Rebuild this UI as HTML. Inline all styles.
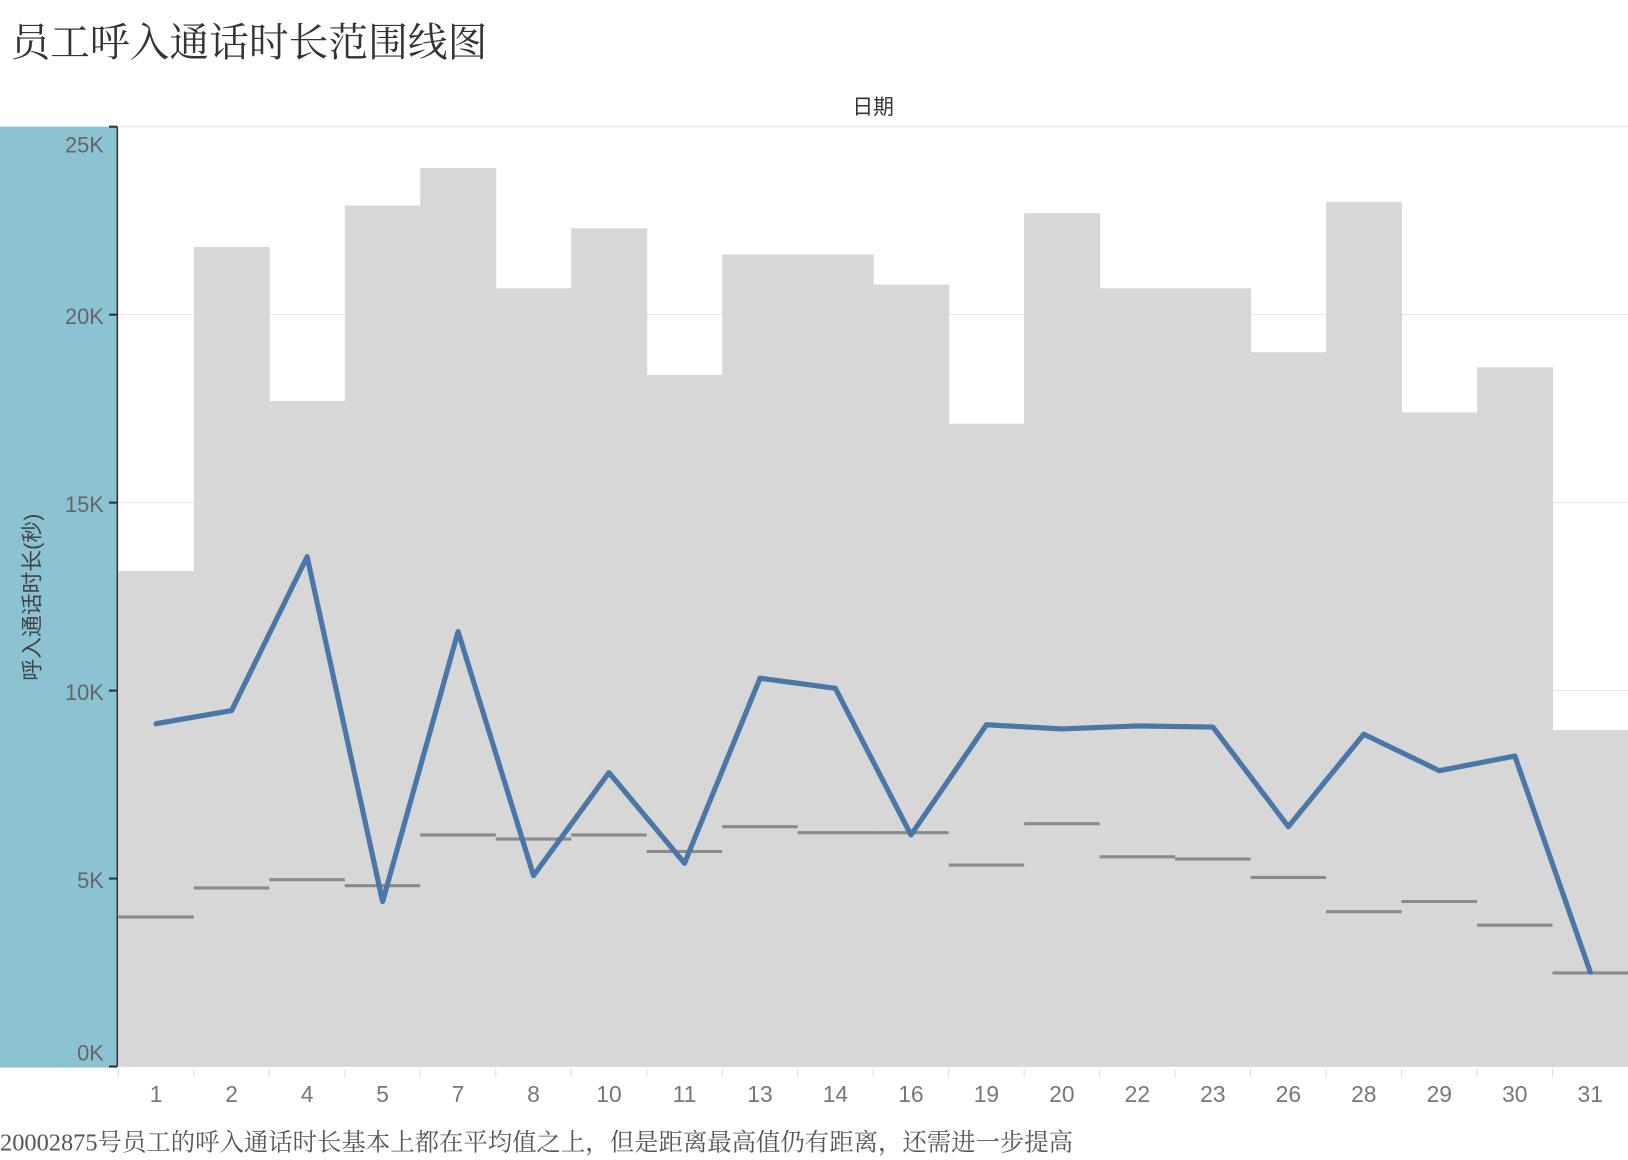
<!DOCTYPE html>
<html><head><meta charset="utf-8">
<style>
html,body{margin:0;padding:0;background:#fff;width:1628px;height:1160px;overflow:hidden}
svg{display:block}
</style></head>
<body>
<svg id="chart" width="1628" height="1160" viewBox="0 0 1568 1117" preserveAspectRatio="none" xmlns="http://www.w3.org/2000/svg">
<text x="10" y="54" font-family="'Liberation Serif','Noto Serif CJK SC',serif" font-size="38.3" fill="#333">员工呼入通话时长范围线图</text>
<text x="841" y="110" text-anchor="middle" font-family="'Liberation Sans','Noto Sans CJK SC',sans-serif" font-size="20" fill="#333">日期</text>
<rect x="0" y="122" width="113" height="906" fill="#8bc3d3"/>
<text transform="translate(38,575) rotate(-90)" text-anchor="middle" font-family="'Liberation Sans','Noto Sans CJK SC',sans-serif" font-size="21" fill="#444">呼入通话时长(秒)</text>
<g id="grid"></g><g id="bars"></g><g id="avgs"></g><g id="line"></g><g id="yaxis"></g><g id="xaxis"></g>
<text x="0" y="1108" font-family="'Liberation Serif','Noto Serif CJK SC',serif" font-size="23.5" fill="#555">20002875号员工的呼入通话时长基本上都在平均值之上，但是距离最高值仍有距离，还需进一步提高</text>
</svg>
<script>
const categories=["1","2","4","5","7","8","10","11","13","14","16","19","20","22","23","26","28","29","30","31"];
const maxValues=[13180,21800,17700,22900,23900,20700,22300,18400,21600,21600,20800,17100,22700,20700,20700,19000,23000,17400,18600,8950];
const lineValues=[9120,9470,13560,4390,11570,5080,7820,5410,10330,10060,6160,9090,8980,9060,9030,6380,8840,7870,8260,2510];
const avgValues=[3980,4750,4970,4810,6160,6050,6160,5720,6380,6220,6220,5360,6460,5580,5520,5030,4120,4390,3760,2490];
const yTicks=[0,5000,10000,15000,20000,25000];
const yTickLabels=["0K","5K","10K","15K","20K","25K"];

const NS="http://www.w3.org/2000/svg";
const X0=114,X1=1568,Y0=1027,PXPER=181/5000;
const bw=(X1-X0)/categories.length;
const y=v=>Y0-v*PXPER;
const xl=i=>X0+i*bw;
const xc=i=>X0+(i+0.5)*bw;
function mk(tag,attrs,parent){const e=document.createElementNS(NS,tag);for(const k in attrs)e.setAttribute(k,attrs[k]);document.getElementById(parent).appendChild(e);return e;}

yTicks.forEach((t,i)=>{
  const g=mk('line',{x1:X0,x2:X1+60,y1:y(t),y2:y(t),stroke:'#e6e6e6','stroke-width':1},'grid');
  
  
  const tk=mk('line',{x1:105,x2:113,y1:y(t),y2:y(t),stroke:'#333','stroke-width':2},'yaxis');
  
  
  const tx=mk('text',{x:100,y:y(t)+(t===25000?25:(t===0?-6:9)),'text-anchor':'end','font-family':"'Liberation Sans',sans-serif",'font-size':21,fill:'#666'},'yaxis');
  tx.textContent=yTickLabels[i];
  
  
});
const ax=mk('line',{x1:113,x2:113,y1:122,y2:Y0,stroke:'#333','stroke-width':1.5},'yaxis');



categories.forEach((c,i)=>{
  const r=mk('rect',{x:xl(i),y:y(maxValues[i]),width:bw+0.5,height:Y0-y(maxValues[i]),fill:'#d7d7d7'},'bars');
  
  
  const a=mk('line',{x1:xl(i),x2:xl(i)+bw,y1:y(avgValues[i]),y2:y(avgValues[i]),stroke:'#8a8a8a','stroke-width':3},'avgs');
  
  
  const t=mk('text',{x:xc(i),y:1061,'text-anchor':'middle','font-family':"'Liberation Sans',sans-serif",'font-size':22,fill:'#777'},'xaxis');
  t.textContent=c;
  
  
  const s=mk('line',{x1:xl(i),x2:xl(i),y1:Y0+2,y2:Y0+10,stroke:'#ddd','stroke-width':1},'xaxis');
  
  
});
const pts=lineValues.map((v,i)=>xc(i).toFixed(1)+','+y(v).toFixed(1)).join(' ');
const pl=mk('polyline',{points:pts,fill:'none',stroke:'#4a76a8','stroke-width':5,'stroke-linejoin':'round','stroke-linecap':'round'},'line');


</script>
</body></html>
